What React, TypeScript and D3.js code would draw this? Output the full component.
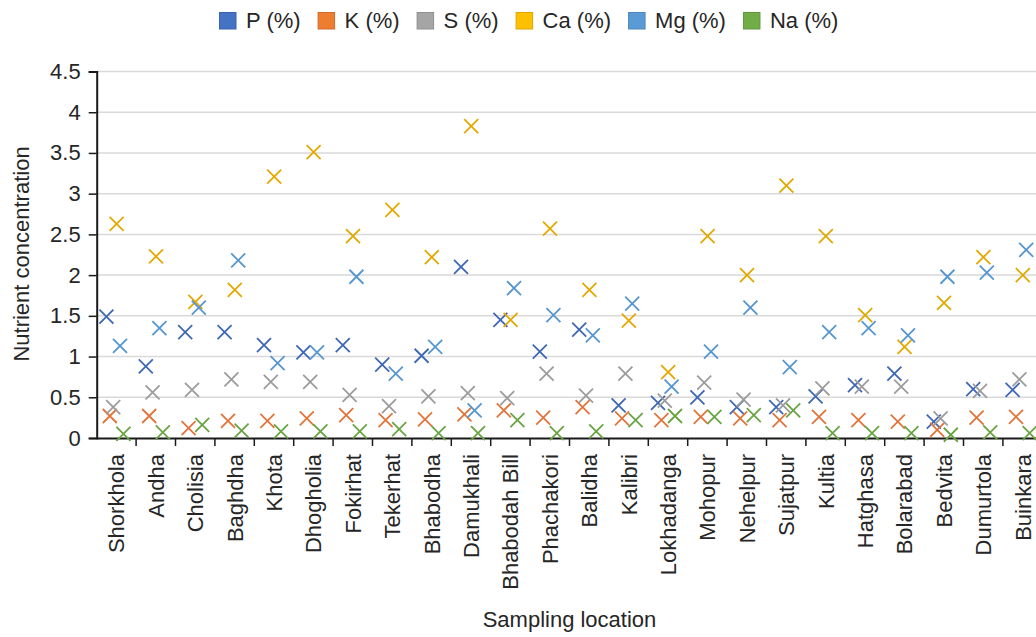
import React, { useEffect, useRef } from "react";
import * as d3 from "d3";

const locations = [
  "Shorkhola", "Andha", "Cholisia", "Baghdha", "Khota", "Dhogholia", "Fokirhat", "Tekerhat",
  "Bhabodha", "Damukhali", "Bhabodah Bill", "Phachakori", "Balidha", "Kalibri", "Lokhadanga",
  "Mohopur", "Nehelpur", "Sujatpur", "Kultia", "Hatghasa", "Bolarabad", "Bedvita", "Dumurtola", "Buinkara",
];

const seriesNames = ["P (%)", "K (%)", "S (%)", "Ca (%)", "Mg (%)", "Na (%)"];

const pValues = [1.49, 0.88, 1.3, 1.3, 1.14, 1.05, 1.14, 0.9, 1.01, 2.1, 1.45, 1.06, 1.33, 0.4, 0.43, 0.5, 0.38, 0.38, 0.51, 0.65, 0.79, 0.2, 0.6, 0.59];
const kValues = [0.27, 0.27, 0.12, 0.21, 0.21, 0.24, 0.28, 0.22, 0.23, 0.29, 0.34, 0.25, 0.38, 0.24, 0.22, 0.26, 0.24, 0.22, 0.26, 0.22, 0.2, 0.1, 0.25, 0.26];
const sValues = [0.38, 0.56, 0.59, 0.72, 0.69, 0.69, 0.53, 0.39, 0.51, 0.55, 0.49, 0.79, 0.52, 0.79, 0.46, 0.68, 0.47, 0.4, 0.61, 0.63, 0.63, 0.24, 0.58, 0.72];
const caValues = [2.63, 2.23, 1.67, 1.82, 3.21, 3.51, 2.48, 2.8, 2.22, 3.83, 1.45, 2.57, 1.82, 1.44, 0.81, 2.48, 2.0, 3.1, 2.48, 1.51, 1.12, 1.66, 2.22, 2.0];
const mgValues = [1.13, 1.35, 1.6, 2.18, 0.92, 1.05, 1.98, 0.79, 1.12, 0.34, 1.84, 1.51, 1.26, 1.65, 0.63, 1.06, 1.6, 0.87, 1.3, 1.35, 1.26, 1.98, 2.03, 2.31];
const naValues = [0.05, 0.07, 0.16, 0.09, 0.08, 0.08, 0.08, 0.11, 0.06, 0.06, 0.22, 0.06, 0.08, 0.22, 0.27, 0.26, 0.28, 0.34, 0.06, 0.06, 0.06, 0.04, 0.07, 0.06];

const yTicks = [0, 0.5, 1, 1.5, 2, 2.5, 3, 3.5, 4, 4.5];

const colors = ["#4472C4", "#ED7D31", "#A5A5A5", "#FFC000", "#5B9BD5", "#70AD47"];
const markerColors = ["#3E67B5", "#E2743A", "#9C9C9C", "#E3A800", "#5596D0", "#68A542"];

const App = () => {
  const ref = useRef<SVGSVGElement>(null);

  useEffect(() => {
    const width = 1036;
    const height = 637;
    const font = "'Liberation Sans', Arial, sans-serif";
    const textColor = "#262626";
    const fs = 22;

    const svg = d3.select(ref.current);
    svg.selectAll("*").remove();
    svg.attr("width", width).attr("height", height).style("font-family", font);

    const values = [pValues, kValues, sValues, caValues, mgValues, naValues];

    const x = d3.scaleBand().domain(locations).range([96.7, 1042.3]);
    const offset = d3.scalePoint().domain(seriesNames).range([-10, 7]);
    const y = d3.scaleLinear().domain([0, 4.5]).range([438, 71.5]);

    // grid
    svg
      .append("g")
      .selectAll("line")
      .data(yTicks.slice(1))
      .enter()
      .append("line")
      .attr("x1", 96.7)
      .attr("x2", width)
      .attr("y1", (d) => y(d))
      .attr("y2", (d) => y(d))
      .attr("stroke", "#d9d9d9")
      .attr("stroke-width", 1.5);

    // y axis
    const yAxis = svg
      .append("g")
      .attr("transform", "translate(96.7,0)")
      .call(d3.axisLeft(y).tickValues(yTicks).tickSize(8).tickPadding(8).tickFormat((d) => String(d)));
    yAxis.select(".domain").attr("stroke", "#1a1a1a").attr("stroke-width", 2);
    yAxis.selectAll(".tick line").attr("stroke", "#1a1a1a").attr("stroke-width", 1.5);
    yAxis
      .selectAll(".tick text")
      .attr("font-family", font)
      .attr("font-size", fs)
      .attr("fill", textColor);

    // x axis line and ticks between categories
    svg
      .append("line")
      .attr("x1", 96.7)
      .attr("x2", width)
      .attr("y1", 438.5)
      .attr("y2", 438.5)
      .attr("stroke", "#1a1a1a")
      .attr("stroke-width", 2);
    svg
      .append("g")
      .selectAll("line")
      .data(locations)
      .enter()
      .append("line")
      .attr("x1", (d) => x(d)! + x.bandwidth())
      .attr("x2", (d) => x(d)! + x.bandwidth())
      .attr("y1", 438)
      .attr("y2", 446)
      .attr("stroke", "#1a1a1a")
      .attr("stroke-width", 1.5);

    svg
      .append("g")
      .selectAll("text")
      .data(locations)
      .enter()
      .append("text")
      .attr("transform", (d) => `translate(${x(d)! + x.bandwidth() / 2},454) rotate(-90)`)
      .attr("text-anchor", "end")
      .attr("dy", "0.36em")
      .attr("font-size", fs)
      .attr("fill", textColor)
      .text((d) => d);

    // markers
    seriesNames.forEach((name, si) => {
      const s = 7;
      svg
        .append("g")
        .selectAll("path")
        .data(values[si])
        .enter()
        .append("path")
        .attr("transform", (d, i) => `translate(${x(locations[i])! + x.bandwidth() / 2 + offset(name)!},${y(d)})`)
        .attr("d", `M${-s},${-s}L${s},${s}M${-s},${s}L${s},${-s}`)
        .attr("fill", "none")
        .attr("stroke", markerColors[si])
        .attr("stroke-width", 1.8);
    });

    // axis titles
    svg
      .append("text")
      .attr("transform", "translate(29,254) rotate(-90)")
      .attr("text-anchor", "middle")
      .attr("font-size", fs)
      .attr("fill", textColor)
      .text("Nutrient concentration");
    svg
      .append("text")
      .attr("x", 569.5)
      .attr("y", 627)
      .attr("text-anchor", "middle")
      .attr("font-size", fs)
      .attr("fill", textColor)
      .text("Sampling location");

    // legend
    const legend = svg.append("g").attr("transform", "translate(219,12)");
    let lx = 0;
    seriesNames.forEach((name, si) => {
      const item = legend.append("g").attr("transform", `translate(${lx},0)`);
      item
        .append("rect")
        .attr("x", 0.5)
        .attr("y", 0.5)
        .attr("width", 16.5)
        .attr("height", 16.5)
        .attr("fill", colors[si])
        .attr("stroke", d3.color(colors[si])!.darker(0.4).toString())
        .attr("stroke-width", 1);
      const t = item
        .append("text")
        .attr("x", 27)
        .attr("y", 16)
        .attr("font-size", fs)
        .attr("fill", textColor)
        .text(name);
      const w = (t.node() as SVGTextElement).getComputedTextLength();
      lx += 27 + w + 17;
    });
  }, []);

  return (
    <svg
      ref={ref}
      width={1036}
      height={637}
      style={{ position: "absolute", left: 0, top: 0, background: "#fff" }}
    />
  );
};

export default App;
